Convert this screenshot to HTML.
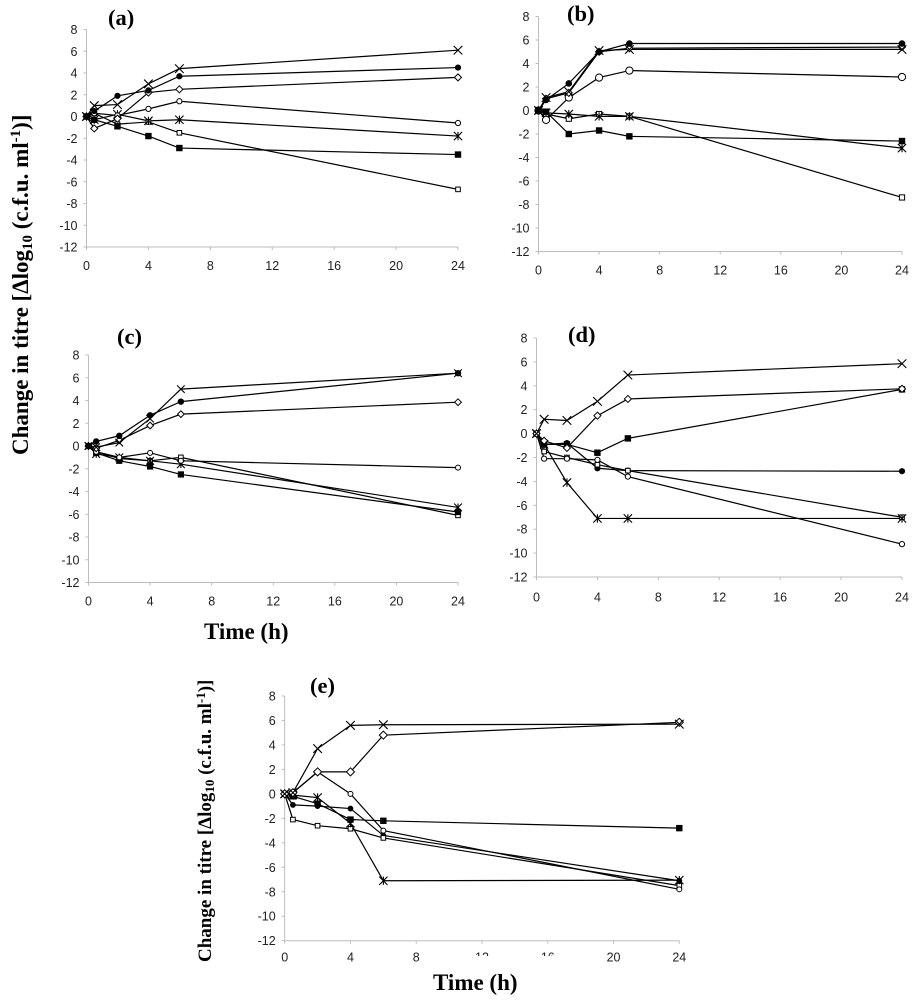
<!DOCTYPE html>
<html lang="en">
<head>
<meta charset="utf-8">
<title>Change in titre over time</title>
<style>
html,body{margin:0;padding:0;background:#fff;}
svg{display:block;filter:blur(0.35px);}
.tick{font-family:"Liberation Sans",sans-serif;font-size:12.5px;fill:#222;}
.ttl{font-family:"Liberation Serif",serif;font-weight:bold;fill:#000;}
</style>
</head>
<body>
<svg id="figure" xmlns="http://www.w3.org/2000/svg" width="915" height="1000" viewBox="0 0 915 1000">
<rect width="915" height="1000" fill="#fff"/>
<g id="charts"></g>
<rect x="430" y="956" width="130" height="44" fill="#fff"/>
<text class="ttl" x="108" y="25" font-size="22.5">(a)</text>
<text class="ttl" x="567" y="21" font-size="22.5">(b)</text>
<text class="ttl" x="117" y="344" font-size="22.5">(c)</text>
<text class="ttl" x="568" y="342" font-size="22.5">(d)</text>
<text class="ttl" x="310" y="693" font-size="22.5">(e)</text>
<text class="ttl" transform="translate(28,455) rotate(-90)" font-size="23">Change in titre [Δlog<tspan font-size="15" dy="4">10</tspan><tspan dy="-4"> (c.f.u. ml</tspan><tspan font-size="15" dy="-8">-1</tspan><tspan dy="8">)]</tspan></text>
<text class="ttl" transform="translate(211,962) rotate(-90)" font-size="19">Change in titre [Δlog<tspan font-size="13" dy="3">10</tspan><tspan dy="-3"> (c.f.u. ml</tspan><tspan font-size="13" dy="-6">-1</tspan><tspan dy="6">)]</tspan></text>
<text class="ttl" x="204" y="639" font-size="23">Time (h)</text>
<text class="ttl" x="433" y="990" font-size="23">Time (h)</text>
</svg>
<script>
var hours = [0, 0.5, 2, 4, 6, 24];
var xTickLabels = [0, 4, 8, 12, 16, 20, 24];
var yTickLabels = [8, 6, 4, 2, 0, -2, -4, -6, -8, -10, -12];

var aCross = [0, 1.0, 1.1, 3.0, 4.4, 6.1];
var aFilledCircle = [0, 0.5, 1.9, 2.4, 3.7, 4.5];
var aDiamond = [0, -1.1, -0.2, 2.2, 2.5, 3.6];
var aOpenCircle = [0, 0.3, 0.1, 0.7, 1.4, -0.6];
var aAsterisk = [0, -0.3, 0.2, -0.4, -0.3, -1.8];
var aOpenSquare = [0, 0.3, -0.7, -0.5, -1.5, -6.7];
var aFilledSquare = [0, -0.3, -0.9, -1.8, -2.9, -3.5];

var bCross = [0, 1.1, 1.6, 5.1, 5.2, 5.2];
var bFilledCircle = [0, 0.9, 2.3, 5.0, 5.7, 5.7];
var bDiamond = [0, 1.0, 1.5, 5.0, 5.3, 5.4];
var bOpenCircle = [0, -0.8, 1.1, 2.8, 3.4, 2.85];
var bAsterisk = [0, -0.2, -0.3, -0.5, -0.5, -3.2];
var bOpenSquare = [0, -0.3, -0.7, -0.3, -0.5, -7.4];
var bFilledSquare = [0, -0.1, -2.0, -1.7, -2.2, -2.6];

var cCross = [0, -0.1, 0.3, 2.4, 5.0, 6.4];
var cFilledCircle = [0, 0.4, 0.9, 2.7, 3.9, 6.4];
var cDiamond = [0, -0.2, 0.5, 1.8, 2.8, 3.85];
var cOpenCircle = [0, -0.5, -1.0, -0.6, -1.3, -1.9];
var cAsterisk = [0, -0.7, -1.0, -1.3, -1.6, -5.4];
var cOpenSquare = [0, -0.5, -1.1, -1.3, -1.0, -6.1];
var cFilledSquare = [0, -0.6, -1.3, -1.8, -2.5, -5.8];

var dCross = [0, 1.2, 1.1, 2.7, 4.9, 5.85];
var dFilledCircle = [0, -0.9, -0.8, -2.9, -3.1, -3.15];
var dDiamond = [0, -0.6, -1.2, 1.5, 2.9, 3.75];
var dOpenCircle = [0, -2.1, -2.1, -2.2, -3.6, -9.25];
var dAsterisk = [0, -0.9, -4.1, -7.1, -7.1, -7.1];
var dOpenSquare = [0, -1.5, -2.0, -2.6, -3.1, -7.0];
var dFilledSquare = [0, -0.9, -0.9, -1.6, -0.4, 3.7];

var eCross = [0, 0.1, 3.7, 5.6, 5.65, 5.7];
var eFilledCircle = [0, -0.9, -1.0, -1.2, -3.4, -7.1];
var eDiamond = [0, 0.1, 1.8, 1.8, 4.8, 5.85];
var eOpenCircle = [0, 0.1, 1.8, 0, -3.0, -7.8];
var eAsterisk = [0, -0.1, -0.3, -2.4, -7.1, -7.05];
var eOpenSquare = [0, -2.1, -2.6, -2.85, -3.6, -7.5];
var eFilledSquare = [0, -0.2, -0.8, -2.1, -2.2, -2.8];

var NS = 'http://www.w3.org/2000/svg';
var root = document.getElementById('charts');

function make(tag, attrs, parent) {
  var el = document.createElementNS(NS, tag);
  for (var k in attrs) el.setAttribute(k, attrs[k]);
  parent.appendChild(el);
  return el;
}

function drawMarker(g, kind, px, py, size) {
  var m;
  var s = size;
  if (kind === 'cross') {
    var c = s * 1.35;
    m = make('path', {d: 'M' + (px - c) + ' ' + (py - c) + 'L' + (px + c) + ' ' + (py + c) + 'M' + (px - c) + ' ' + (py + c) + 'L' + (px + c) + ' ' + (py - c), fill: 'none', stroke: '#000', 'stroke-width': 1.1}, g);
  } else if (kind === 'asterisk') {
    var a = s * 1.3;
    m = make('path', {d: 'M' + (px - a) + ' ' + (py - a) + 'L' + (px + a) + ' ' + (py + a) + 'M' + (px - a) + ' ' + (py + a) + 'L' + (px + a) + ' ' + (py - a) + 'M' + px + ' ' + (py - a) + 'L' + px + ' ' + (py + a), fill: 'none', stroke: '#000', 'stroke-width': 1.1}, g);
  } else if (kind === 'filledCircle' || kind === 'openCircle') {
    m = make('circle', {cx: px, cy: py, r: s, fill: kind === 'filledCircle' ? '#000' : '#fff', stroke: '#000', 'stroke-width': 1}, g);
  } else if (kind === 'filledSquare' || kind === 'openSquare') {
    m = make('rect', {x: px - s, y: py - s, width: 2 * s, height: 2 * s, fill: kind === 'filledSquare' ? '#000' : '#fff', stroke: '#000', 'stroke-width': 1}, g);
  } else {
    var d = s * 1.3;
    m = make('path', {d: 'M' + px + ' ' + (py - d) + 'L' + (px + d) + ' ' + py + 'L' + px + ' ' + (py + d) + 'L' + (px - d) + ' ' + py + 'Z', fill: '#fff', stroke: '#000', 'stroke-width': 1}, g);
  }
  
  
}

function drawPanel(id, frame, seriesList, sizes) {
  var xScale = function (v) { return frame.left + (v / 24) * (frame.right - frame.left); };
  var yScale = function (v) { return frame.top + ((8 - v) / 20) * (frame.bottom - frame.top); };
  var g = make('g', {}, root);
  
  

  var yAxis = make('line', {x1: frame.left, x2: frame.left, y1: frame.top, y2: frame.bottom, stroke: '#bdbdbd', 'stroke-width': 1}, g);
  
  
  var xAxis = make('line', {x1: frame.left, x2: frame.right, y1: frame.bottom, y2: frame.bottom, stroke: '#bdbdbd', 'stroke-width': 1}, g);
  
  

  yTickLabels.forEach(function (v) {
    var y = yScale(v);
    make('line', {x1: frame.left - 3, x2: frame.left, y1: y, y2: y, stroke: '#bdbdbd', 'stroke-width': 1}, g);
    var t = make('text', {x: frame.left - 9, y: y + 4.5, 'text-anchor': 'end', 'class': 'tick'}, g);
    
    
    t.textContent = v;
  });
  xTickLabels.forEach(function (v) {
    var x = xScale(v);
    make('line', {x1: x, x2: x, y1: frame.bottom, y2: frame.bottom + 3, stroke: '#bdbdbd', 'stroke-width': 1}, g);
    var t = make('text', {x: x, y: frame.bottom + frame.tickGap, 'text-anchor': 'middle', 'class': 'tick'}, g);
    
    
    t.textContent = v;
  });

  seriesList.forEach(function (s) {
    var pts = s.values.map(function (v, i) { return xScale(hours[i]) + ',' + yScale(v); }).join(' ');
    var line = make('polyline', {points: pts, fill: 'none', stroke: '#000', 'stroke-width': 1.2}, g);
    
    
  });
  seriesList.forEach(function (s) {
    s.values.forEach(function (v, i) {
      drawMarker(g, s.kind, xScale(hours[i]), yScale(v), sizes[s.kind] || 2.6);
    });
  });
}

drawPanel('a', {left: 86.5, right: 458, top: 29.5, bottom: 247, tickGap: 23}, [
  {kind: 'openSquare', values: aOpenSquare},
  {kind: 'filledSquare', values: aFilledSquare},
  {kind: 'asterisk', values: aAsterisk},
  {kind: 'openCircle', values: aOpenCircle},
  {kind: 'diamond', values: aDiamond},
  {kind: 'filledCircle', values: aFilledCircle},
  {kind: 'cross', values: aCross}
], {cross: 3.2, asterisk: 3.2, filledCircle: 2.6, openCircle: 2.6, diamond: 2.7, openSquare: 2.3, filledSquare: 2.7});

drawPanel('b', {left: 538.5, right: 902, top: 16.5, bottom: 251.5, tickGap: 23}, [
  {kind: 'openSquare', values: bOpenSquare},
  {kind: 'filledSquare', values: bFilledSquare},
  {kind: 'asterisk', values: bAsterisk},
  {kind: 'openCircle', values: bOpenCircle},
  {kind: 'diamond', values: bDiamond},
  {kind: 'cross', values: bCross},
  {kind: 'filledCircle', values: bFilledCircle}
], {cross: 3.2, asterisk: 3.2, filledCircle: 2.8, openCircle: 3.6, diamond: 2.7, openSquare: 2.6, filledSquare: 2.7});

drawPanel('c', {left: 88.5, right: 458, top: 355, bottom: 582.5, tickGap: 23}, [
  {kind: 'openSquare', values: cOpenSquare},
  {kind: 'filledSquare', values: cFilledSquare},
  {kind: 'asterisk', values: cAsterisk},
  {kind: 'openCircle', values: cOpenCircle},
  {kind: 'diamond', values: cDiamond},
  {kind: 'filledCircle', values: cFilledCircle},
  {kind: 'cross', values: cCross}
], {cross: 2.8, asterisk: 3.0, filledCircle: 2.7, openCircle: 2.5, diamond: 2.6, openSquare: 2.3, filledSquare: 2.6});

drawPanel('d', {left: 536.5, right: 902, top: 338, bottom: 577, tickGap: 24.5}, [
  {kind: 'filledCircle', values: dFilledCircle},
  {kind: 'openSquare', values: dOpenSquare},
  {kind: 'filledSquare', values: dFilledSquare},
  {kind: 'asterisk', values: dAsterisk},
  {kind: 'openCircle', values: dOpenCircle},
  {kind: 'diamond', values: dDiamond},
  {kind: 'cross', values: dCross}
], {cross: 3.2, asterisk: 3.2, filledCircle: 2.6, openCircle: 2.6, diamond: 2.7, openSquare: 2.3, filledSquare: 2.7});

drawPanel('e', {left: 284.7, right: 679.3, top: 696, bottom: 940.7, tickGap: 21}, [
  {kind: 'filledCircle', values: eFilledCircle},
  {kind: 'filledSquare', values: eFilledSquare},
  {kind: 'openSquare', values: eOpenSquare},
  {kind: 'asterisk', values: eAsterisk},
  {kind: 'openCircle', values: eOpenCircle},
  {kind: 'diamond', values: eDiamond},
  {kind: 'cross', values: eCross}
], {cross: 3.2, asterisk: 3.2, filledCircle: 2.4, openCircle: 2.5, diamond: 3.1, openSquare: 2.3, filledSquare: 2.7});
</script>
</body>
</html>
